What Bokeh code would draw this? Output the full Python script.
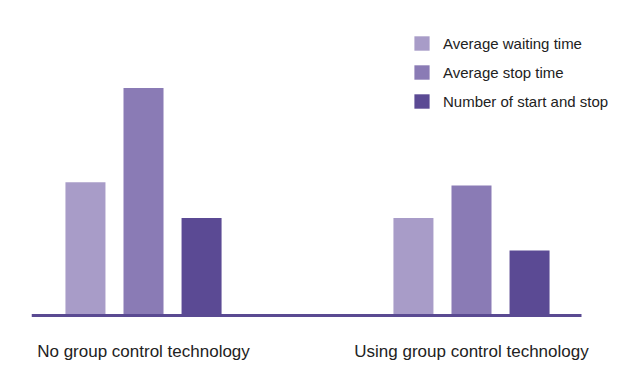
from bokeh.plotting import figure
from bokeh.models import Range1d, FixedTicker, Legend, LegendItem, ColumnDataSource
from bokeh.embed import file_html
from bokeh.resources import INLINE

groups = ["No group control technology", "Using group control technology"]
series = ["Average waiting time", "Average stop time", "Number of start and stop"]
values = {
    "Average waiting time": [41, 30],
    "Average stop time": [70, 40],
    "Number of start and stop": [30, 20],
}
colors = ["#a89cc8", "#8a7bb5", "#5b4a94"]
baseline_color = "#5a4a92"

bar_step = 0.177
bar_width = 0.122
base_x = [-0.3415, 1.3354]

p = figure(width=620, height=372, output_backend="svg", toolbar_location=None,
           x_range=Range1d(-0.3415, 1.4543), y_range=Range1d(-0.923, 96.92),
           min_border_left=31, min_border_right=0, min_border_top=0, min_border_bottom=54)
p.outline_line_color = None
p.grid.visible = False
p.yaxis.visible = False
p.background_fill_color = "white"

items = []
for j, (s, c) in enumerate(zip(series, colors)):
    xs = [g + (j - 1) * bar_step for g in range(len(groups))]
    src = ColumnDataSource(dict(x=xs, top=values[s]))
    r = p.vbar(x="x", top="top", bottom=0, width=bar_width, source=src,
               fill_color=c, line_color=None)
    items.append(LegendItem(label=s, renderers=[r]))

# baseline
p.segment(x0=[base_x[0]], y0=[0], x1=[base_x[1]], y1=[0],
          line_color=baseline_color, line_width=3)

ax = p.xaxis[0]
ax.ticker = FixedTicker(ticks=list(range(len(groups))))
ax.major_label_overrides = {i: g for i, g in enumerate(groups)}
ax.axis_line_color = None
ax.major_tick_line_color = None
ax.minor_tick_line_color = None
ax.major_tick_out = 0
ax.major_tick_in = 0
ax.minor_tick_out = 0
ax.major_label_standoff = 23
ax.major_label_text_font = "Liberation Sans"
ax.major_label_text_font_size = "17px"
ax.major_label_text_color = "#222222"

legend = Legend(items=items, location=(381, 208), orientation="vertical",
                glyph_width=19, glyph_height=18, label_height=18, spacing=11,
                label_standoff=12, padding=0, margin=0,
                border_line_color=None, background_fill_alpha=0,
                label_text_font="Liberation Sans", label_text_font_size="15px",
                label_text_color="#222222")
p.add_layout(legend, "center")

open("out.html", "w").write(file_html(p, INLINE))
